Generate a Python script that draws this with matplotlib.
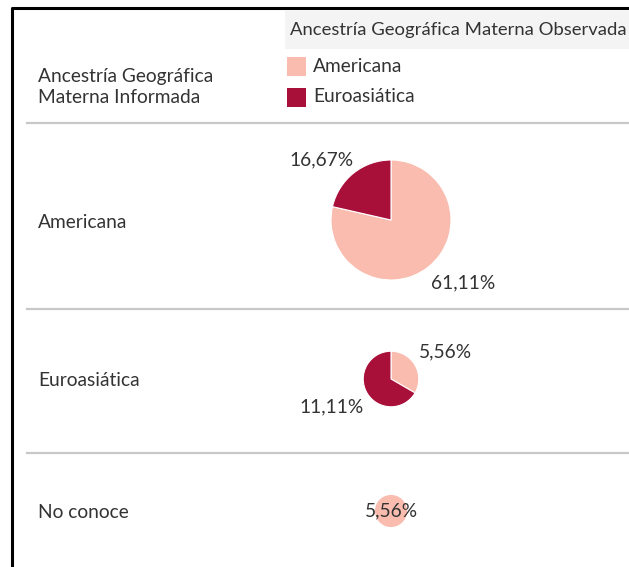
import numpy as np
import matplotlib.pyplot as plt
from matplotlib.patches import Rectangle

# - Data - #
rows = ["Americana", "Euroasiática", "No conoce"]
series = ["Americana", "Euroasiática"]
americana = [61.11, 5.56, 5.56]
euroasiatica = [16.67, 11.11, 0.0]
colors = ["#f9bcaf", "#a8103a"]

W, H = 629, 567
TXT = "#333333"
FONT = "Lato"
FS = 13.8


def py(y):
    # pixel row (top-down) -> data y (bottom-up)
    return H - y


# - Figure and Axes - #
fig = plt.figure(figsize=(W / 100, H / 100), dpi=100)
ax = fig.add_axes([0, 0, 1, 1]); ax.set_axis_off()

# - Frame, header band, separators - #
ax.plot([12, 12, W + 5], [py(H + 5), py(7.5), py(7.5)], color="black", lw=2.2, solid_capstyle="butt")
ax.add_patch(Rectangle((285, py(49)), W - 285, 38, facecolor="#f4f4f4", edgecolor="none"))
for y in [123, 309, 453]:
    ax.plot([27, W], [py(y), py(y)], color="#c8c8c8", lw=1.6)

ax.text(290, py(30), "Ancestría Geográfica Materna Observada", fontsize=13.3, family=FONT,
        color=TXT, va="center", ha="left")
ax.text(38, py(87), "Ancestría Geográfica\nMaterna Informada", fontsize=FS, family=FONT,
        color=TXT, va="center", ha="left", linespacing=1.3)

# - Legend - #
for i, (name, c) in enumerate(zip(series, colors)):
    yc = 66 + i * 31
    ax.add_patch(Rectangle((287, py(yc + 9.5)), 19, 19, facecolor=c, edgecolor="none"))
    ax.text(313, py(yc), name, fontsize=FS, family=FONT, color=TXT, va="center", ha="left")

# - Row labels and pies - #
row_y = [220, 379, 511]
totals = [a + e for a, e in zip(americana, euroasiatica)]
rmax = 60.0
label_pos = {
    (0, 0): (463, 283, "center"), (0, 1): (322, 160, "center"),
    (1, 0): (445, 352, "center"), (1, 1): (332, 407, "center"),
    (2, 0): (391, 511, "center"),
}
for i, (name, yc) in enumerate(zip(rows, row_y)):
    ax.text(38, py(yc + 2), name, fontsize=FS, family=FONT, color=TXT, va="center", ha="left")
    vals = [americana[i], euroasiatica[i]]
    keep = [k for k, v in enumerate(vals) if v > 0]
    r = rmax * np.sqrt(totals[i] / max(totals))
    ax.pie([vals[k] for k in keep], colors=[colors[k] for k in keep], startangle=90,
           counterclock=False, center=(391, py(yc)), radius=r,
           wedgeprops=dict(edgecolor="white", linewidth=0.8 if len(keep) > 1 else 0))
    for k in keep:
        x, y, ha = label_pos[(i, k)]
        ax.text(x, py(y), f"{vals[k]:.2f}%".replace(".", ","), fontsize=FS, family=FONT,
                color=TXT, va="center", ha=ha, zorder=5)

ax.set_xlim(0, W); ax.set_ylim(0, H)
ax.set_aspect("auto")

fig.savefig("out.png", dpi=100, facecolor="white")
